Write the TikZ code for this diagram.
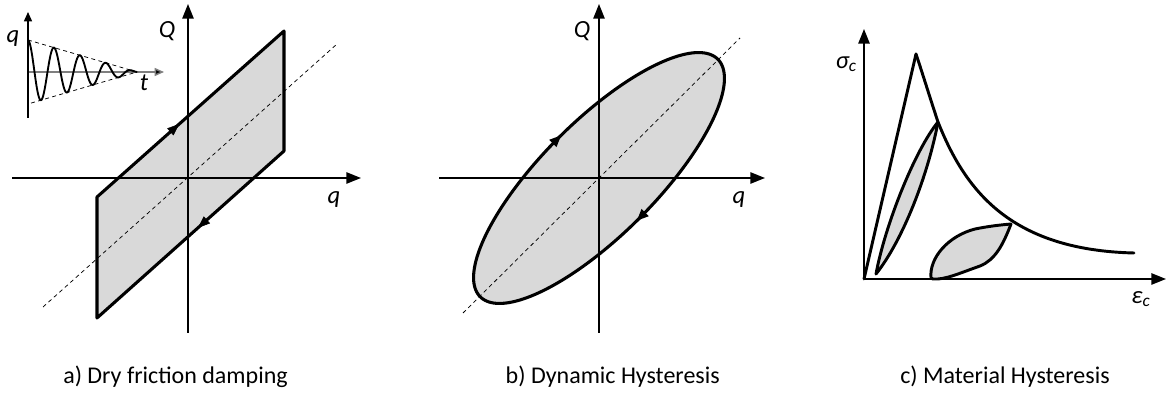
\documentclass[tikz,border=0pt]{standalone}
\usepackage{fontspec}
\setmainfont{Carlito}
\usetikzlibrary{arrows.meta,decorations.markings}
\definecolor{loopfill}{HTML}{D9D9D9}
\definecolor{insetgray}{HTML}{7F7F7F}
\begin{document}
\begin{tikzpicture}[x=0.75pt,y=-0.75pt,
  axis/.style={line width=1.2pt,-{Triangle[length=11pt,width=8.5pt]}},
  smallaxis/.style={line width=1.1pt,-{Triangle[length=7pt,width=6pt]}},
  outline/.style={line width=2.3pt,line join=round},
  curve/.style={line width=2.2pt,line join=round,line cap=round},
  diagline/.style={line width=0.55pt,dash pattern=on 3pt off 2.5pt},
  midarrow/.style={postaction={decorate,decoration={markings,
      mark=at position #1 with {\arrow{Triangle[length=9pt,width=7pt]}}}}},
  lbl/.style={font=\fontsize{18.5}{22}\selectfont\itshape,inner sep=0pt},
  captext/.style={font=\fontsize{18}{22}\selectfont,inner sep=0pt}]
\useasboundingbox (0,0) rectangle (1166,398);

% ---------------- panel a ----------------
\coordinate (aXl) at (12,178);
\coordinate (aXr) at (361,178);
\coordinate (aYb) at (188,333);
\coordinate (aYt) at (188,4);
\coordinate (aP1) at (97,197);
\coordinate (aP2) at (284,31);
\coordinate (aP3) at (284,151);
\coordinate (aP4) at (97,318);
\coordinate (aD1) at (43,307);
\coordinate (aD2) at (337,44);
\fill[loopfill] (aP1) -- (aP2) -- (aP3) -- (aP4) -- cycle;
\draw[diagline] (aD1) -- (aD2);
\draw[axis] (aXl) -- (aXr);
\draw[axis] (aYb) -- (aYt);
\draw[outline] (aP1) -- (aP2) -- (aP3) -- (aP4) -- cycle;
\path[midarrow=0.44] (aP1) -- (aP2);
\path[midarrow=0.46] (aP3) -- (aP4);
\node[lbl] (aQ) at (167,31) {Q};
\node[lbl] (aq) at (334,200) {q};

% inset
\coordinate (iYb) at (28,118);
\coordinate (iYt) at (28,12);
\coordinate (iXl) at (28,72);
\coordinate (iXr) at (164,72);
\coordinate (iE1) at (28,40);
\coordinate (iE2) at (28,104);
\coordinate (iE0) at (137,72);
\draw[smallaxis,draw=insetgray,-{Triangle[length=7pt,width=6pt,fill=black]}] (iXl) -- (iXr);
\draw[smallaxis] (iYb) -- (iYt);
\draw[diagline] (iE1) -- (iE0) -- (iE2);
\draw[line width=1.4pt] plot[domain=0:109,samples=160,smooth]
  ({28+\x},{72-32*(1-\x/109)*cos(13.84615*\x)});
\node[lbl] (iq) at (13,39) {q};
\node[lbl] (it) at (144,83) {t};

% ---------------- panel b ----------------
\coordinate (bXl) at (439,178);
\coordinate (bXr) at (765,178);
\coordinate (bYb) at (599,333);
\coordinate (bYt) at (599,4);
\coordinate (bD1) at (463,313);
\coordinate (bD2) at (740,38);
\fill[loopfill] plot[domain=0:360,samples=181]
  ({599+(168*cos(\x)+57*sin(\x))/sqrt(2)},{178+(-168*cos(\x)+57*sin(\x))/sqrt(2)}) -- cycle;
\draw[diagline] (bD1) -- (bD2);
\draw[axis] (bXl) -- (bXr);
\draw[axis] (bYb) -- (bYt);
\draw[outline,
  postaction={decorate,decoration={markings,
    mark=at position 0.255 with {\arrow{Triangle[length=9pt,width=7pt]}},
    mark=at position 0.755 with {\arrow{Triangle[length=9pt,width=7pt]}}}}]
  plot[domain=0:360,samples=181]
  ({599+(168*cos(\x)+57*sin(\x))/sqrt(2)},{178+(-168*cos(\x)+57*sin(\x))/sqrt(2)}) -- cycle;
\node[lbl] (bQ) at (582,31) {Q};
\node[lbl] (bq) at (739,200) {q};

% ---------------- panel c ----------------
\coordinate (cO) at (864,279);
\coordinate (cYt) at (864,29);
\coordinate (cXr) at (1166,279);
\coordinate (cP) at (916,54);
\coordinate (cA) at (938,122);
\coordinate (cB) at (1011,224);
\coordinate (cE) at (1134,253);
\coordinate (cL1) at (876,274);
\coordinate (cL2) at (931,278);
\fill[loopfill] (cL1) .. controls (885,225) and (915,150) .. (cA)
  .. controls (928,175) and (903,240) .. (cL1) -- cycle;
\fill[loopfill] (cL2) .. controls (929,258) and (948,236) .. (975,229)
  .. controls (990,226) and (1000,225) .. (cB)
  .. controls (1003,245) and (995,260) .. (980,266)
  .. controls (960,273) and (945,280) .. (933,279) -- cycle;
\draw[axis,line width=1.3pt] (cO) -- (cYt);
\draw[axis,line width=1.3pt] (cO) -- (cXr);
\draw[curve] (cO) -- (cP);
\draw[curve] (cP) .. controls (924,78) and (930,98) .. (cA)
  .. controls (965,190) and (1010,250) .. (cE);
\draw[curve] (cL1) .. controls (885,225) and (915,150) .. (cA)
  .. controls (928,175) and (903,240) .. (cL1) -- cycle;
\draw[curve] (cL2) .. controls (929,258) and (948,236) .. (975,229)
  .. controls (990,226) and (1000,225) .. (cB)
  .. controls (1003,245) and (995,260) .. (980,266)
  .. controls (960,273) and (945,280) .. (933,279) -- cycle;
\node[lbl,anchor=east] (cs) at (857,64) {σ\textsubscript{c}};
\node[lbl] (ce) at (1141,299) {ε\textsubscript{c}};

% ---------------- captions ----------------
\node[captext,anchor=base west] (capa) at (63,384) {a) Dry friction damping};
\node[captext,anchor=base east] (capb) at (720,384) {b) Dynamic Hysteresis};
\node[captext,anchor=base west] (capc) at (900,384) {c) Material Hysteresis};
\end{tikzpicture}
\end{document}
